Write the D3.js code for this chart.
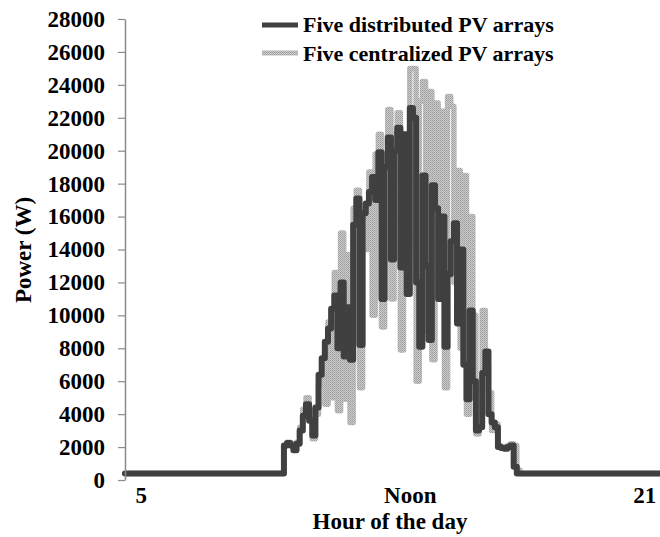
<!DOCTYPE html>
<html>
<head>
<meta charset="utf-8">
<script src="https://cdn.jsdelivr.net/npm/d3@7"></script>
<style>
  html, body { margin: 0; padding: 0; background: #fff; }
  svg text { font-family: "Liberation Serif", "Times New Roman", serif; font-weight: bold; fill: #000; }
</style>
</head>
<body>
<svg id="chart" width="660" height="537"></svg>
<script>
// Sampling: one reading every 0.1 h from 4.5 h to 21.5 h
const startHour = 4.5;
const stepHour = 0.1;

// Output power (W) of five distributed PV arrays
const distributedW = [
  400,400,400,400,400,400,400,400,400,400,
  400,400,400,400,400,400,400,400,400,400,
  400,400,400,400,400,400,400,400,400,400,
  400,400,400,400,400,400,400,400,400,400,
  400,400,400,400,400,400,400,400,400,400,
  400,
  2100,2250,2100,1800,2200,3000,3900,4600,3600,2700,
  4400,6400,7400,8400,9200,10400,11200,8000,12000,7500,
  10500,7300,15500,17100,8200,16200,16800,17500,18400,17000,
  19900,11000,19000,20800,13400,20000,21400,12900,21000,11300,
  22600,22000,12000,8100,18500,13000,8500,17900,16500,11000,
  16000,8100,12500,14500,15600,9500,14000,7000,4900,10300,
  6000,3000,3200,6500,7800,4000,3500,3200,2000,1950,
  1900,2000,2100,800,400,
  400,400,400,400,400,400,400,400,400,400,
  400,400,400,400,400,400,400,400,400,400,
  400,400,400,400,400,400,400,400,400,400,
  400,400,400,400,400,400,400,400,400,400,
  400,400,400,400,400
];

// Output power (W) of five centralized PV arrays
const centralizedW = [
  400,400,400,400,400,400,400,400,400,400,
  400,400,400,400,400,400,400,400,400,400,
  400,400,400,400,400,400,400,400,400,400,
  400,400,400,400,400,400,400,400,400,400,
  400,400,400,400,400,400,400,400,400,400,
  400,
  2100,2300,2200,1900,2300,3200,4300,5000,4200,2500,
  4000,5800,7000,4600,9600,5000,12600,4200,15000,4900,
  13700,3500,16500,17600,5600,16000,14000,18700,10000,19800,
  21000,9300,19800,22500,11000,21000,22300,7900,19000,14000,
  25000,25000,6000,23000,24200,9000,23600,7300,22900,14000,
  22400,5600,23300,22700,12000,18800,8000,18500,4000,16000,
  10000,2800,6000,10300,7000,5300,3000,3400,2100,2000,
  1950,2100,2200,2100,600,
  400,400,400,400,400,400,400,400,400,400,
  400,400,400,400,400,400,400,400,400,400,
  400,400,400,400,400,400,400,400,400,400,
  400,400,400,400,400,400,400,400,400,400,
  400,400,400,400,400
];

const yTicks = [0,2000,4000,6000,8000,10000,12000,14000,16000,18000,20000,22000,24000,26000,28000];
const xTickHours = [5, 13.55, 21];
const xTickLabels = ["5", "Noon", "21"];
const seriesNames = ["Five distributed PV arrays", "Five centralized PV arrays"];

const svg = d3.select("#chart");
const plotLeft = 125, plotRight = 660, plotTop = 19, plotBottom = 480;

const hours = distributedW.map((_, i) => startHour + i * stepHour);
const x = d3.scaleLinear().domain([startHour, startHour + (distributedW.length - 1) * stepHour]).range([plotLeft, plotRight]);
const y = d3.scaleLinear().domain([0, 28000]).range([plotBottom, plotTop]);

// grainy fill used for the light series
const defs = svg.append("defs");
const pat = defs.append("pattern").attr("id", "grain")
  .attr("patternUnits", "userSpaceOnUse").attr("width", 2).attr("height", 2);
pat.append("rect").attr("width", 2).attr("height", 2).attr("fill", "#cbcbcb");
pat.append("rect").attr("width", 1).attr("height", 1).attr("fill", "#9c9c9c");
pat.append("rect").attr("x", 1).attr("y", 1).attr("width", 1).attr("height", 1).attr("fill", "#ababab");

const line = d3.line().curve(d3.curveStep).x((d, i) => x(hours[i])).y(d => y(d));

svg.append("path").datum(centralizedW)
  .attr("d", line).attr("fill", "none")
  .attr("stroke", "url(#grain)").attr("stroke-width", 5.5)
  .attr("stroke-linejoin", "round").attr("stroke-linecap", "round");

svg.append("path").datum(distributedW)
  .attr("d", line).attr("fill", "none")
  .attr("stroke", "#404040").attr("stroke-width", 6)
  .attr("stroke-linejoin", "round").attr("stroke-linecap", "round");

// y axis
const yAxis = svg.append("g").attr("transform", `translate(${plotLeft},0)`)
  .call(d3.axisLeft(y).tickValues(yTicks).tickFormat(d3.format("d")).tickSize(7).tickSizeOuter(0).tickPadding(13));
yAxis.select(".domain").attr("stroke", "#8a8a8a").attr("stroke-width", 1.5);
yAxis.selectAll(".tick line").attr("stroke", "#8a8a8a").attr("stroke-width", 1.2);
yAxis.selectAll("text").style("font-size", "23px").attr("fill", "#000");

// x axis labels only
const xAxis = svg.append("g").attr("transform", `translate(0,${plotBottom})`)
  .call(d3.axisBottom(x).tickValues(xTickHours).tickFormat((d, i) => xTickLabels[i]).tickSize(0).tickPadding(7));
xAxis.select(".domain").remove();
xAxis.selectAll("text").style("font-size", "23px").attr("fill", "#000");

// axis titles
svg.append("text").attr("x", 390).attr("y", 529).attr("text-anchor", "middle")
  .style("font-size", "23px").text("Hour of the day");
svg.append("text").attr("transform", "translate(31,250) rotate(-90)").attr("text-anchor", "middle")
  .style("font-size", "23px").text("Power (W)");

// legend
const legend = svg.append("g");
legend.append("line").attr("x1", 262).attr("x2", 298).attr("y1", 25).attr("y2", 25)
  .attr("stroke", "#404040").attr("stroke-width", 5);
legend.append("line").attr("x1", 262).attr("x2", 298).attr("y1", 53).attr("y2", 53)
  .attr("stroke", "url(#grain)").attr("stroke-width", 5);
legend.append("text").attr("x", 303).attr("y", 32).style("font-size", "22px").text(seriesNames[0]);
legend.append("text").attr("x", 303).attr("y", 61).style("font-size", "22px").text(seriesNames[1]);
</script>
</body>
</html>
